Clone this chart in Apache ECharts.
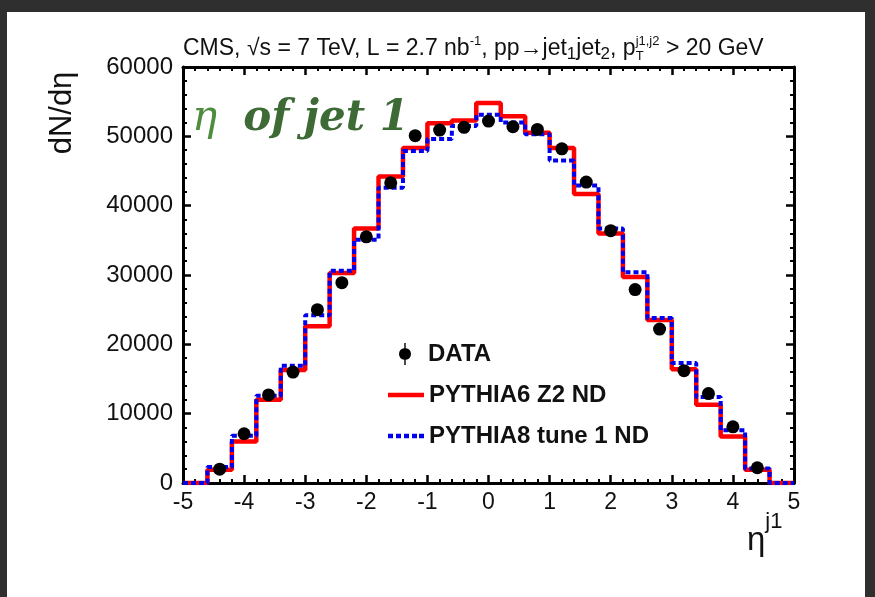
<!DOCTYPE html>
<html>
<head>
<meta charset="utf-8">
<script src="https://cdn.jsdelivr.net/npm/echarts@6/dist/echarts.min.js"></script>
<style>
  html, body { margin: 0; padding: 0; background: #ffffff; }
  #chart { width: 875px; height: 597px; }
</style>
</head>
<body>
<div id="chart"></div>
<script>
// Bin edges in eta (25 bins of width 0.4)
const binEdges = [-5.0, -4.6, -4.2, -3.8, -3.4, -3.0, -2.6, -2.2, -1.8, -1.4, -1.0, -0.6, -0.2,
                  0.2, 0.6, 1.0, 1.4, 1.8, 2.2, 2.6, 3.0, 3.4, 3.8, 4.2, 4.6, 5.0];

// Simulated dN/deta per bin
const pythia6Z2 = [0, 1900, 6000, 12000, 16300, 22600, 30300, 36700, 44200, 48300, 51900, 52300, 54800,
                   52900, 50500, 48300, 41700, 36000, 29700, 23500, 16400, 11300, 6700, 1900, 0];
const pythia8Tune1 = [0, 2300, 6800, 12600, 16900, 24200, 30600, 35100, 42600, 47900, 49600, 51500, 53100,
                      52000, 50300, 46500, 42900, 36700, 30400, 23800, 17300, 12400, 7600, 2100, 0];

// Measured points at bin centres
const dataEta = [-4.4, -4.0, -3.6, -3.2, -2.8, -2.4, -2.0, -1.6, -1.2, -0.8, -0.4, 0.0,
                 0.4, 0.8, 1.2, 1.6, 2.0, 2.4, 2.8, 3.2, 3.6, 4.0, 4.4];
const dataValues = [2000, 7100, 12700, 16000, 25000, 28900, 35500, 43300, 50100, 50900, 51300, 52200,
                    51400, 51000, 48200, 43400, 36400, 27900, 22200, 16200, 12900, 8100, 2200];

const xTicks = [-5, -4, -3, -2, -1, 0, 1, 2, 3, 4, 5];
const yTicks = [0, 10000, 20000, 30000, 40000, 50000, 60000];

// Histogram outline: each bin starts at its left edge, the last edge closes the final bin
function stepPoints(values) {
  const pts = values.map((v, i) => [binEdges[i], v]);
  pts.push([binEdges[binEdges.length - 1], values[values.length - 1]]);
  return pts;
}

const FONT = "'Liberation Sans', Arial, sans-serif";
const chart = echarts.init(document.getElementById('chart'), null, { renderer: 'canvas' });

const tickStyle = { show: true, inside: true, length: 8, lineStyle: { color: '#000', width: 2.5 } };
const minorStyle = { show: true, splitNumber: 5, length: 4, lineStyle: { color: '#000', width: 2 } };

// legend glyphs: solid bar, dashed bar, dot with error bar
const solidIcon = 'path://M0,0 L36,0 L36,4.5 L0,4.5 Z';
const dashedIcon = 'path://M0,0 h5 v4.5 h-5 Z M8,0 h5 v4.5 h-5 Z M16,0 h5 v4.5 h-5 Z M24,0 h5 v4.5 h-5 Z M31,0 h5 v4.5 h-5 Z';
const dataIcon = 'path://M5.3,0 L6.7,0 L6.7,5.2 A6,6 0 0,1 12,11 A6,6 0 0,1 6.7,16.8 L6.7,22 L5.3,22 L5.3,16.8 A6,6 0 0,1 0,11 A6,6 0 0,1 5.3,5.2 Z';

const legendText = { fontFamily: FONT, fontSize: 24, fontWeight: 'bold', color: '#111' };

const option = {
  backgroundColor: '#ffffff',
  animation: false,
  title: {
    left: 178, top: 30,
    text: 'CMS, √s = 7 TeV, L = 2.7 nb{sup|-1}, pp→jet{sub|1}jet{sub|2}, p{subT|T}{sup|j1,j2} > 20 GeV',
    textStyle: {
      fontFamily: FONT, fontSize: 23, fontWeight: 'normal', color: '#111', lineHeight: 28,
      rich: {
        sup: { fontFamily: FONT, fontSize: 13, lineHeight: 14, verticalAlign: 'top', color: '#111' },
        sub: { fontFamily: FONT, fontSize: 17, lineHeight: 17, verticalAlign: 'bottom', color: '#111' },
        subT: { fontFamily: FONT, fontSize: 13, lineHeight: 13, verticalAlign: 'bottom', color: '#111', width: 0 }
      }
    }
  },
  grid: { left: 183, top: 67, width: 611, height: 416, containLabel: false },
  xAxis: [
    {
      type: 'value', min: -5, max: 5, interval: 1, position: 'bottom',
      axisLine: { show: true, onZero: false, lineStyle: { color: '#000', width: 3 } },
      axisTick: tickStyle, minorTick: minorStyle,
      splitLine: { show: false },
      axisLabel: { color: '#111', fontFamily: FONT, fontSize: 23, margin: 8,
                   customValues: xTicks, formatter: v => String(v) }
    },
    {
      type: 'value', min: -5, max: 5, interval: 1, position: 'top',
      axisLine: { show: true, onZero: false, lineStyle: { color: '#000', width: 3 } },
      axisTick: tickStyle, minorTick: minorStyle,
      splitLine: { show: false }, axisLabel: { show: false }
    }
  ],
  yAxis: [
    {
      type: 'value', min: 0, max: 60000, interval: 10000, position: 'left',
      axisLine: { show: true, onZero: false, lineStyle: { color: '#000', width: 3 } },
      axisTick: tickStyle, minorTick: minorStyle,
      splitLine: { show: false },
      axisLabel: { color: '#111', fontFamily: FONT, fontSize: 24, margin: 10,
                   customValues: yTicks, formatter: v => String(v) }
    },
    {
      type: 'value', min: 0, max: 60000, interval: 10000, position: 'right',
      axisLine: { show: true, onZero: false, lineStyle: { color: '#000', width: 3 } },
      axisTick: tickStyle, minorTick: minorStyle,
      splitLine: { show: false }, axisLabel: { show: false }
    }
  ],
  legend: [
    {
      left: 394, top: 337, itemWidth: 12, itemHeight: 22,
      data: [{ name: 'DATA', icon: dataIcon }],
      textStyle: Object.assign({ padding: [0, 0, 0, 12] }, legendText)
    },
    {
      left: 383, top: 378, itemWidth: 36, itemHeight: 4.5,
      data: [{ name: 'PYTHIA6 Z2 ND', icon: solidIcon }],
      textStyle: legendText
    },
    {
      left: 383, top: 419, itemWidth: 36, itemHeight: 4.5,
      data: [{ name: 'PYTHIA8 tune 1 ND', icon: dashedIcon }],
      textStyle: legendText
    }
  ],
  series: [
    {
      name: 'PYTHIA6 Z2 ND', type: 'line', step: 'end', xAxisIndex: 0, yAxisIndex: 0,
      data: stepPoints(pythia6Z2), symbol: 'none', z: 3,
      lineStyle: { color: '#ff0000', width: 4.5 }, itemStyle: { color: '#ff0000' }
    },
    {
      name: 'PYTHIA8 tune 1 ND', type: 'line', step: 'end', xAxisIndex: 0, yAxisIndex: 0,
      data: stepPoints(pythia8Tune1), symbol: 'none', z: 4,
      lineStyle: { color: '#0000ee', width: 4, type: [5, 3] }, itemStyle: { color: '#0000ee' }
    },
    {
      name: 'DATA', type: 'scatter', xAxisIndex: 0, yAxisIndex: 0,
      data: dataEta.map((x, i) => [x, dataValues[i]]),
      symbol: 'circle', symbolSize: 13, z: 5,
      itemStyle: { color: '#000', opacity: 1 }
    }
  ],
  graphic: [
    // dark frame around the figure
    { type: 'rect', shape: { x: 0, y: 0, width: 875, height: 12 }, style: { fill: '#2f2f2f' }, z: 100 },
    { type: 'rect', shape: { x: 0, y: 0, width: 7, height: 597 }, style: { fill: '#2f2f2f' }, z: 100 },
    { type: 'rect', shape: { x: 865, y: 0, width: 10, height: 597 }, style: { fill: '#2f2f2f' }, z: 100 },
    // y-axis title
    { type: 'text', x: 62, y: 113, rotation: Math.PI / 2, z: 50,
      style: { text: 'dN/dη', font: "31px 'Liberation Sans', Arial, sans-serif", fill: '#111',
               textAlign: 'center', textVerticalAlign: 'middle' } },
    // x-axis title
    { type: 'text', x: 747, y: 511, z: 50,
      style: { text: '{a|η}{b|j1}', fill: '#111',
               rich: { a: { fontFamily: FONT, fontSize: 33, lineHeight: 46, verticalAlign: 'bottom', fill: '#111' },
                       b: { fontFamily: FONT, fontSize: 22, lineHeight: 46, verticalAlign: 'top', fill: '#111' } } } },
    // panel label
    { type: 'text', x: 192, y: 98, z: 50,
      style: { text: '{g|η}{sp| }{h|of jet 1}',
               rich: { g: { fontFamily: "'DejaVu Serif', serif", fontStyle: 'italic', fontSize: 42, fill: '#4e8c3e' },
                       sp: { fontFamily: "'DejaVu Serif', serif", fontSize: 42, width: 26 },
                       h: { fontFamily: "'DejaVu Serif', serif", fontStyle: 'italic', fontWeight: 'bold', fontSize: 42, fill: '#3e6b35' } } } }
  ]
};

chart.setOption(option);
</script>
</body>
</html>
